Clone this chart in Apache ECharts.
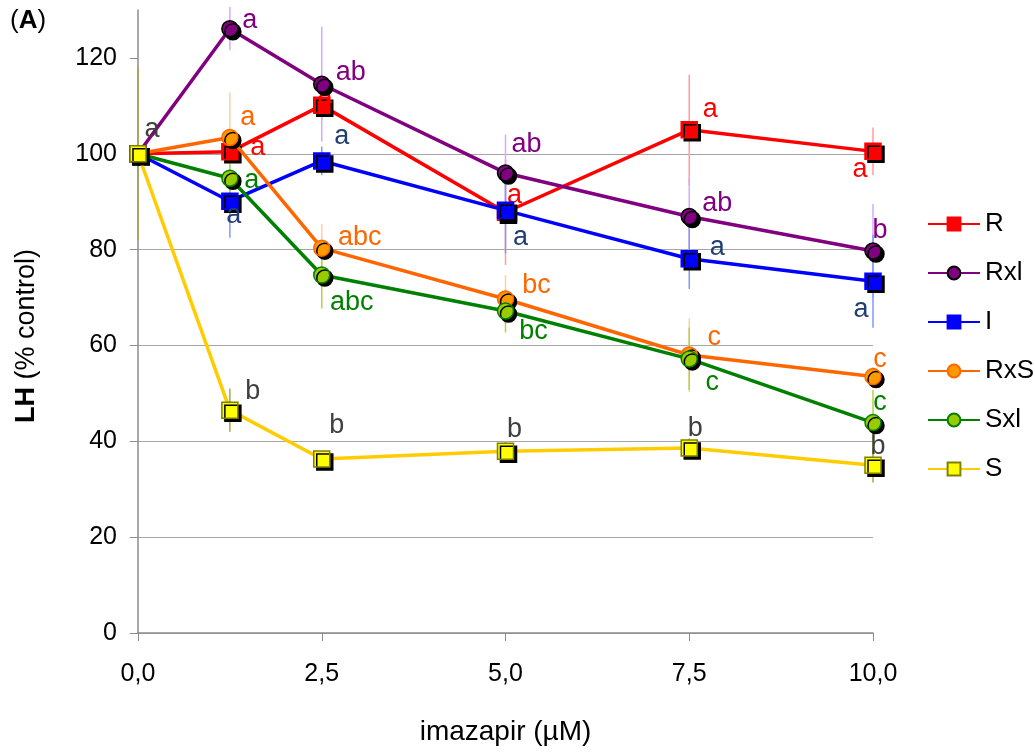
<!DOCTYPE html>
<html>
<head>
<meta charset="utf-8">
<script src="https://cdn.jsdelivr.net/npm/echarts@6/dist/echarts.min.js"></script>
<style>
  html, body { margin: 0; padding: 0; background: #fff; }
  #chart { width: 1035px; height: 753px; }
</style>
</head>
<body>
<div id="chart"></div>
<script>
// imazapir doses (µM)
const doses = [0, 1.25, 2.5, 5, 7.5, 10];
const xTicks = [0, 2.5, 5, 7.5, 10];
const yTicks = [0, 20, 40, 60, 80, 100, 120];
const seriesNames = ['R', 'Rxl', 'I', 'RxS', 'Sxl', 'S'];

// LH (% control)
const rValues   = [100, 100.4, 110.1, 87.8, 105.0, 100.5];
const rxlValues = [100, 126.1, 114.5, 96.0, 86.9, 79.7];
const iValues   = [100, 90.1, 98.5, 88.2, 78.1, 73.4];
const rxsValues = [100, 103.4, 80.3, 69.7, 58.0, 53.5];
const sxlValues = [100, 94.9, 74.7, 67.2, 57.2, 43.9];
const sValues   = [100, 46.5, 36.3, 37.9, 38.6, 35.0];

// error bars (±)
const rErr   = [0, 2, 3, 11, 11.5, 5];
const rxlErr = [0, 4.5, 12, 8, 8, 9.8];
const iErr   = [0, 7.6, 3, 9, 6.3, 9.7];
const rxsErr = [0, 9.4, 5, 5, 7.7, 2];
const sxlErr = [0, 3, 7, 4.5, 6.5, 6.8];
const sErr   = [18, 4.5, 1, 2, 2, 3.6];

// significance letters
const rLetters   = ['', 'a', 'a', 'a', 'a', 'a'];
const rxlLetters = ['', 'a', 'ab', 'ab', 'ab', 'b'];
const iLetters   = ['', 'a', 'a', 'a', 'a', 'a'];
const rxsLetters = ['', 'a', 'abc', 'bc', 'c', 'c'];
const sxlLetters = ['', 'a', 'abc', 'bc', 'c', 'c'];
const sLetters   = ['a', 'b', 'b', 'b', 'b', 'b'];

const FONT = "'Liberation Sans', Arial, sans-serif";

// per-series look; label offsets are pixel nudges from the marker centre
const styles = [
  { line: '#ff0000', fill: '#ff0000', border: '#ff0000', err: '#ff9c9c', text: '#ff0000', symbol: 'rect',
    offsets: [null, [28, -4], [3, -10], [9, -17], [21, -20], [-13, 18]] },
  { line: '#800080', fill: '#800080', border: '#000000', err: '#d6a8ff', text: '#800080', symbol: 'circle',
    offsets: [null, [20, -8], [29, -12], [21, -28], [28, -13], [7, -21]] },
  { line: '#0000ff', fill: '#0000ff', border: '#0000ff', err: '#7f99ff', text: '#1f3f73', symbol: 'rect',
    offsets: [null, [4, 14], [20, -24], [15, 27], [28, -11], [-12, 28]] },
  { line: '#ff6600', fill: '#ff9900', border: '#ff6600', err: '#ffd0a0', text: '#ff6600', symbol: 'circle',
    offsets: [null, [18, -20], [38, -11], [31, -13], [25, -17], [7, -17]] },
  { line: '#008000', fill: '#99cc00', border: '#008000', err: '#b5d23c', text: '#008000', symbol: 'circle',
    offsets: [null, [22, 2], [30, 28], [28, 21], [23, 24], [7, -20]] },
  { line: '#ffcc00', fill: '#ffff00', border: '#808000', err: '#a6a64a', text: '#404040', symbol: 'rect',
    offsets: [[14, -24], [23, -19], [15, -33], [9, -22], [6, -19], [5, -19]] }
];

const allValues = [rValues, rxlValues, iValues, rxsValues, sxlValues, sValues];
const allErr = [rErr, rxlErr, iErr, rxsErr, sxlErr, sErr];
const allLetters = [rLetters, rxlLetters, iLetters, rxsLetters, sxlLetters, sLetters];

const chart = echarts.init(document.getElementById('chart'));

const series = [];
seriesNames.forEach((name, k) => {
  const st = styles[k];
  series.push({
    name: name + ' err',
    type: 'custom',
    z: 1,
    silent: true,
    data: doses.map((x, i) => [x, allValues[k][i], allErr[k][i]]),
    renderItem: (params, api) => {
      const x = api.value(0), y = api.value(1), e = api.value(2);
      if (!e) return null;
      const p1 = api.coord([x, y + e]);
      const p2 = api.coord([x, y - e]);
      return {
        type: 'line',
        shape: { x1: p1[0], y1: p1[1], x2: p2[0], y2: p2[1] },
        style: { stroke: st.err, lineWidth: 1.5 }
      };
    }
  });
});

seriesNames.forEach((name, k) => {
  const st = styles[k];
  series.push({
    name: name,
    type: 'line',
    z: 2 + k,
    symbol: st.symbol,
    symbolSize: 16,
    lineStyle: { color: st.line, width: 3.5 },
    itemStyle: {
      color: st.fill,
      borderColor: st.border,
      borderWidth: 1.5,
      shadowColor: '#000',
      shadowOffsetX: 3,
      shadowOffsetY: 3,
      shadowBlur: 0
    },
    emphasis: { disabled: true },
    data: doses.map((x, i) => {
      const letter = allLetters[k][i];
      const item = { value: [x, allValues[k][i]] };
      if (letter) {
        item.label = {
          show: true,
          formatter: letter,
          position: 'inside',
          offset: st.offsets[i],
          color: st.text,
          fontSize: 27,
          fontFamily: FONT
        };
      }
      return item;
    })
  });
});

const option = {
  backgroundColor: '#fff',
  animation: false,
  grid: { left: 138, right: 162, top: 10, bottom: 120 },
  legend: {
    data: seriesNames,
    orient: 'vertical',
    left: 922,
    top: 204,
    itemWidth: 52,
    itemHeight: 16,
    itemGap: 19,
    itemStyle: { shadowBlur: 0, shadowOffsetX: 0, shadowOffsetY: 0, shadowColor: 'rgba(0,0,0,0)' },
    textStyle: { color: '#000', fontSize: 26, fontFamily: FONT, lineHeight: 30 }
  },
  graphic: [
    {
      type: 'text', left: 10, top: 8,
      style: {
        text: '({b|A})',
        fill: '#000',
        font: '26px ' + FONT,
        rich: { b: { fontWeight: 'bold', fontSize: 26, fontFamily: FONT } }
      }
    },
    {
      type: 'text', x: 27, y: 336, rotation: Math.PI / 2,
      style: {
        text: '{b|LH} (% control)',
        fill: '#000',
        font: '27px ' + FONT,
        align: 'center',
        verticalAlign: 'middle',
        rich: { b: { fontWeight: 'bold', fontSize: 27, fontFamily: FONT } }
      }
    }
  ],
  xAxis: {
    type: 'value',
    min: 0,
    max: 10,
    interval: 2.5,
    name: 'imazapir (µM)',
    nameLocation: 'middle',
    nameGap: 85,
    nameTextStyle: { color: '#000', fontSize: 28, fontFamily: FONT },
    axisLine: { lineStyle: { color: '#8c8c8c', width: 1.5 } },
    axisTick: { show: true, length: 8, lineStyle: { color: '#8c8c8c' }, customValues: xTicks },
    axisLabel: {
      color: '#000', fontSize: 25, fontFamily: FONT, margin: 29,
      customValues: xTicks,
      formatter: v => v.toFixed(1).replace('.', ',')
    },
    splitLine: { show: false }
  },
  yAxis: {
    type: 'value',
    min: 0,
    max: 130,
    interval: 20,
    axisLine: { show: true, lineStyle: { color: '#8c8c8c', width: 1.5 } },
    axisTick: { show: true, length: 8, lineStyle: { color: '#8c8c8c' }, customValues: yTicks },
    axisLabel: {
      color: '#000', fontSize: 25, fontFamily: FONT, margin: 21,
      customValues: yTicks
    },
    splitLine: { show: true, showMaxLine: false, lineStyle: { color: '#a6a6a6', width: 1 } }
  },
  series: series
};

chart.setOption(option);
</script>
</body>
</html>
